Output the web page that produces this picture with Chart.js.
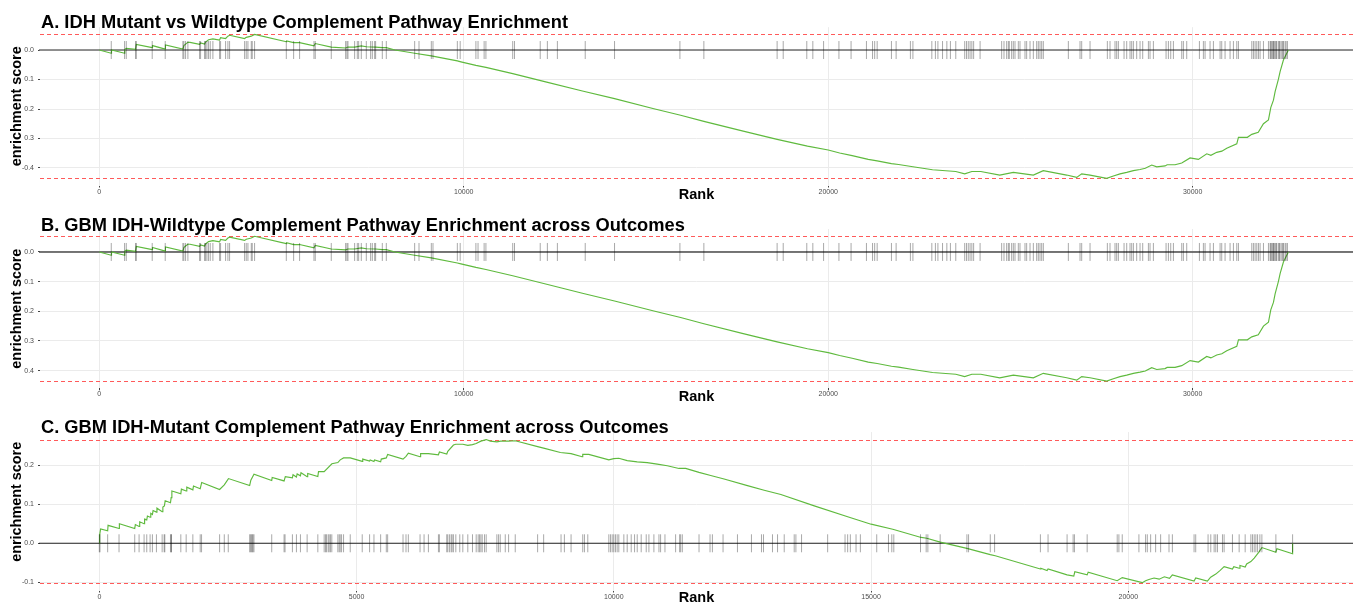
<!DOCTYPE html>
<html>
<head>
<meta charset="utf-8">
<script src="https://cdn.jsdelivr.net/npm/chart.js@4.4.0/dist/chart.umd.min.js"></script>
<style>
  html, body { margin: 0; padding: 0; background: #fff; }
  #wrap { position: relative; width: 1353px; height: 607px; overflow: hidden; background: #fff; }
  #wrap canvas { position: absolute; left: 0; }
</style>
</head>
<body>
<div id="wrap">
  <canvas id="panelA" width="1353" height="205" style="top:0px;width:1353px;height:205px"></canvas>
  <canvas id="panelB" width="1353" height="205" style="top:202px;width:1353px;height:205px"></canvas>
  <canvas id="panelC" width="1353" height="203" style="top:404px;width:1353px;height:203px"></canvas>
</div>
<script>
// ---------- panel titles ----------
const titleA = 'A. IDH Mutant vs Wildtype Complement Pathway Enrichment';
const titleB = 'B. GBM IDH-Wildtype Complement Pathway Enrichment across Outcomes';
const titleC = 'C. GBM IDH-Mutant Complement Pathway Enrichment across Outcomes';
const yAxisTitle = 'enrichment score';
const xAxisTitle = 'Rank';

// ---------- tick values and labels ----------
const xTicksAB = [0, 10000, 20000, 30000];
const xTicksC = [0, 5000, 10000, 15000, 20000];
const yTickValuesA = [0, -0.1, -0.2, -0.3, -0.4];
const yTickLabelsA = ['0.0', '0.1', '0.2', '0.3', '-0.4'];
const yTickValuesB = [0, -0.1, -0.2, -0.3, -0.4];
const yTickLabelsB = ['0.0', '0.1', '0.2', '0.3', '0.4'];
const yTickValuesC = [0.2, 0.1, 0, -0.1];
const yTickLabelsC = ['0.2', '0.1', '0.0', '-0.1'];

// ---------- IDH mutant vs wildtype: running enrichment score ----------
const esRankA = [0, 328, 335, 694, 700, 740, 996, 1015, 1452, 1460, 1809, 1815, 2294, 2321, 2367, 2431, 2489,
  2751, 2779, 2888, 2916, 2998, 3117, 3300, 3328, 3465, 3529, 3575, 3987, 4032, 4170, 4261, 5131, 5140,
  5332, 5496, 5890, 5926, 6365, 6759, 6823, 7006, 7189, 7326, 7582, 7765, 7875, 8112, 8653, 9110, 9824,
  9922, 10333, 10608, 11343, 12275, 13255, 14137, 15216, 15951, 16588, 17667, 18598, 19431, 20000, 20314,
  20657, 21098, 21343, 21735, 21931, 22324, 22863, 23500, 23745, 23941, 24186, 24706, 25079, 25628, 25902,
  26543, 26818, 26955, 27184, 27641, 27824, 28007, 28190, 28373, 28556, 28700, 28876, 29014, 29242, 29300,
  29517, 29700, 29929, 30157, 30386, 30500, 30660, 30800, 30935, 31210, 31256, 31500, 31622, 31800, 31942,
  32079, 32143, 32216, 32262, 32353, 32399, 32490, 32581, 32627];
const esScoreA = [0, -0.011, 0.000, -0.011, 0.002, 0.006, 0.002, 0.019, 0.008, 0.015, 0.003, 0.017, 0.003, 0.015,
  0.020, 0.026, 0.026, 0.019, 0.024, 0.020, 0.027, 0.035, 0.038, 0.034, 0.042, 0.039, 0.047, 0.050, 0.039,
  0.043, 0.047, 0.053, 0.028, 0.031, 0.025, 0.025, 0.014, 0.022, 0.010, 0.007, 0.010, 0.010, 0.014, 0.011,
  0.010, 0.008, 0.008, 0.000, -0.011, -0.020, -0.037, -0.040, -0.052, -0.059, -0.080, -0.109, -0.139,
  -0.165, -0.199, -0.221, -0.242, -0.275, -0.303, -0.326, -0.339, -0.349, -0.358, -0.371, -0.376, -0.385,
  -0.388, -0.396, -0.406, -0.412, -0.420, -0.412, -0.412, -0.424, -0.415, -0.424, -0.409, -0.424, -0.432,
  -0.420, -0.424, -0.435, -0.427, -0.420, -0.415, -0.409, -0.405, -0.401, -0.390, -0.396, -0.393, -0.389,
  -0.389, -0.383, -0.366, -0.371, -0.352, -0.357, -0.347, -0.343, -0.333, -0.318, -0.296, -0.296, -0.286,
  -0.279, -0.250, -0.237, -0.195, -0.170, -0.141, -0.099, -0.073, -0.034, -0.011, 0.000];
// ranks of the pathway genes
const hitsA = [328, 694, 740, 996, 1015, 1452, 1809, 2294, 2321, 2367, 2431, 2751, 2779, 2888, 2916, 2953, 2998,
  3044, 3117, 3300, 3328, 3465, 3529, 3575, 3987, 4032, 4078, 4170, 4197, 4261, 5131, 5332, 5496, 5890, 5926,
  6365, 6759, 6795, 6823, 7006, 7079, 7116, 7189, 7326, 7445, 7491, 7555, 7582, 7765, 7875, 8653, 8772, 9110,
  9156, 9824, 9902, 10333, 10392, 10559, 10608, 11343, 11392, 12098, 12294, 12569, 13333, 14137, 15931, 16588,
  18598, 18765, 19412, 19578, 19873, 20294, 20627, 21049, 21216, 21275, 21343, 21735, 21863, 22255, 22324,
  22843, 22941, 23010, 23137, 23255, 23353, 23500, 23745, 23794, 23843, 23892, 23941, 23990, 24167, 24759,
  24823, 24896, 24942, 24969, 25033, 25079, 25125, 25216, 25262, 25399, 25445, 25537, 25628, 25720, 25765,
  25811, 25857, 25902, 26589, 26909, 26955, 27184, 27659, 27732, 27869, 27915, 27961, 28117, 28190, 28281,
  28327, 28373, 28464, 28556, 28629, 28785, 28830, 28922, 29270, 29334, 29398, 29471, 29700, 29745, 29837,
  30185, 30294, 30340, 30477, 30569, 30752, 30797, 30889, 31026, 31118, 31210, 31256, 31622, 31667, 31713,
  31759, 31805, 31850, 31942, 32079, 32125, 32143, 32170, 32198, 32216, 32234, 32262, 32289, 32307, 32353,
  32381, 32399, 32445, 32472, 32490, 32536, 32563, 32600];

// ---------- GBM IDH-wildtype across outcomes ----------
const esRankB = esRankA.slice();
const esScoreB = esScoreA.slice();
const hitsB = hitsA.slice();

// ---------- GBM IDH-mutant across outcomes ----------
const esRankC = [0, 6, 25, 162, 170, 383, 390, 688, 700, 773, 785, 870, 880, 922, 935, 987, 1000, 1032, 1045,
  1110, 1120, 1221, 1235, 1265, 1280, 1383, 1396, 1410, 1584, 1595, 1688, 1700, 1818, 1830, 1961, 1990, 2338,
  2429, 2510, 2922, 2945, 3006, 3351, 3360, 3591, 3615, 3753, 3765, 3831, 3845, 3909, 3920, 4039, 4050, 4247,
  4260, 4370, 4520, 4636, 4682, 4747, 4877, 5110, 5120, 5253, 5265, 5338, 5350, 5468, 5480, 5578, 5604, 5903,
  5961, 6006, 6234, 6245, 6396, 6591, 6610, 6753, 6773, 6883, 6929, 7065, 7162, 7253, 7325, 7416, 7519, 7600,
  7727, 7800, 7955, 8084, 8519, 8636, 8961, 9169, 9383, 9396, 9513, 9903, 10000, 10097, 10260, 10455, 10649,
  10844, 11039, 11266, 11396, 11656, 11883, 12143, 12597, 12922, 13247, 13896, 14545, 15000, 15422, 15974,
  16083, 16343, 16863, 17317, 17414, 18291, 18300, 18421, 18440, 18810, 18940, 18960, 19200, 19220, 19784,
  19882, 20271, 20336, 20400, 20500, 20600, 20700, 20800, 20856, 21278, 21310, 21537, 21600, 21700, 21780,
  21862, 22024, 22050, 22154, 22170, 22271, 22300, 22382, 22447, 22530, 22596, 22868, 22888, 23193, 23193];
const esScoreC = [0, 0.021, 0.037, 0.032, 0.046, 0.038, 0.050, 0.038, 0.048, 0.043, 0.055, 0.050, 0.062, 0.060,
  0.070, 0.067, 0.077, 0.074, 0.084, 0.080, 0.090, 0.081, 0.093, 0.096, 0.109, 0.104, 0.117, 0.134, 0.127,
  0.139, 0.134, 0.144, 0.137, 0.147, 0.140, 0.156, 0.138, 0.150, 0.166, 0.148, 0.162, 0.177, 0.161, 0.169,
  0.160, 0.171, 0.168, 0.176, 0.170, 0.178, 0.173, 0.181, 0.171, 0.179, 0.171, 0.184, 0.184, 0.204, 0.207,
  0.214, 0.219, 0.219, 0.210, 0.216, 0.211, 0.214, 0.210, 0.214, 0.209, 0.216, 0.219, 0.228, 0.216, 0.223,
  0.231, 0.222, 0.230, 0.230, 0.227, 0.234, 0.229, 0.236, 0.252, 0.254, 0.254, 0.251, 0.253, 0.256, 0.262,
  0.266, 0.262, 0.260, 0.262, 0.262, 0.263, 0.248, 0.244, 0.233, 0.230, 0.222, 0.228, 0.228, 0.214, 0.217,
  0.218, 0.212, 0.209, 0.207, 0.203, 0.199, 0.192, 0.192, 0.182, 0.174, 0.165, 0.148, 0.136, 0.125, 0.096,
  0.068, 0.049, 0.036, 0.015, 0.013, 0.003, -0.013, -0.029, -0.032, -0.066, -0.064, -0.070, -0.066, -0.081,
  -0.084, -0.073, -0.081, -0.074, -0.096, -0.088, -0.101, -0.096, -0.093, -0.089, -0.092, -0.086, -0.090,
  -0.081, -0.097, -0.089, -0.097, -0.087, -0.079, -0.070, -0.060, -0.066, -0.060, -0.064, -0.057, -0.061,
  -0.053, -0.047, -0.038, -0.024, -0.011, -0.023, -0.014, -0.027, 0.000];
const hitsC = [0, 13, 162, 383, 688, 773, 870, 922, 987, 1032, 1110, 1221, 1260, 1273, 1383, 1396, 1403, 1584,
  1688, 1818, 1961, 1987, 2338, 2429, 2506, 2922, 2942, 2955, 2974, 2987, 3006, 3351, 3591, 3610, 3753, 3831,
  3909, 4039, 4247, 4370, 4396, 4416, 4448, 4468, 4494, 4519, 4636, 4662, 4682, 4708, 4747, 4877, 5110, 5253,
  5338, 5468, 5578, 5604, 5903, 5961, 6006, 6234, 6312, 6396, 6591, 6610, 6753, 6773, 6805, 6838, 6857, 6883,
  6929, 7006, 7065, 7162, 7253, 7325, 7364, 7390, 7416, 7442, 7487, 7519, 7727, 7760, 7792, 7890, 7955, 8084,
  8519, 8636, 8974, 9039, 9169, 9396, 9429, 9494, 9903, 9935, 9968, 10000, 10032, 10065, 10097, 10195, 10260,
  10338, 10403, 10455, 10532, 10630, 10682, 10779, 10877, 10909, 10994, 11201, 11279, 11299, 11331, 11656,
  11870, 11916, 12123, 12403, 12675, 12870, 12909, 13084, 13182, 13312, 13506, 13539, 13649, 14156, 14494,
  14545, 14597, 14708, 14792, 15110, 15338, 15403, 15442, 15961, 16071, 16104, 16343, 16863, 16895, 17317,
  17401, 18291, 18440, 18810, 18927, 18953, 19200, 19784, 19817, 19882, 20206, 20336, 20369, 20434, 20531,
  20628, 20791, 20856, 21278, 21310, 21550, 21603, 21668, 21700, 21733, 21830, 21862, 22024, 22154, 22271,
  22382, 22414, 22447, 22479, 22512, 22557, 22596, 22868, 23193];

// ---------- shared styling ----------
const FONT = '"Liberation Sans", Arial, Helvetica, sans-serif';
const GREEN = '#5fba3e';
const RED = '#ff5a5a';
const GRID = '#ebebeb';
const HIT = 'rgba(0, 0, 0, 0.34)';

// Decorations: extreme-score dashed lines, zero line, panel title, y title
const panelDeco = {
  id: 'panelDeco',
  beforeDatasetsDraw(chart, args, o) {
    const { ctx, chartArea: a, scales: { y } } = chart;
    ctx.save();
    ctx.strokeStyle = RED;
    ctx.lineWidth = 1;
    ctx.setLineDash([4, 3]);
    for (const v of [Math.max(...o.scores), Math.min(...o.scores)]) {
      const py = Math.round(y.getPixelForValue(v)) + 0.5;
      ctx.beginPath();
      ctx.moveTo(a.left, py);
      ctx.lineTo(a.right, py);
      ctx.stroke();
    }
    ctx.setLineDash([]);
    ctx.strokeStyle = o.zeroColor;
    ctx.lineWidth = o.zeroWidth;
    const pz = y.getPixelForValue(0);
    ctx.beginPath();
    ctx.moveTo(a.left - 1, pz);
    ctx.lineTo(a.right, pz);
    ctx.stroke();
    ctx.restore();
  },
  afterDraw(chart, args, o) {
    const { ctx, chartArea: a } = chart;
    ctx.save();
    ctx.fillStyle = '#000';
    ctx.font = 'bold 18.3px ' + FONT;
    ctx.textAlign = 'left';
    ctx.textBaseline = 'alphabetic';
    ctx.fillText(o.title, 41, o.titleBaseline);
    ctx.font = 'bold 14.4px ' + FONT;
    ctx.textAlign = 'center';
    ctx.textBaseline = 'middle';
    ctx.translate(17.3, (a.top + a.bottom) / 2 + o.yTitleShift);
    ctx.rotate(-Math.PI / 2);
    ctx.fillText(yAxisTitle, 0, 0);
    ctx.restore();
  }
};

function makePanel(id, p) {
  const lineData = p.ranks.map((r, i) => ({ x: r, y: p.scores[i] }));
  const hitData = p.hits.map(r => ({ x: r, y: 0 }));
  return new Chart(document.getElementById(id), {
    type: 'scatter',
    data: {
      datasets: [
        {
          type: 'scatter',
          data: hitData,
          pointStyle: 'line',
          rotation: 90,
          pointRadius: 9,
          pointBorderWidth: 1,
          borderColor: HIT,
          pointBorderColor: HIT,
          order: 0
        },
        {
          type: 'line',
          data: lineData,
          borderColor: GREEN,
          borderWidth: 1.15,
          pointRadius: 0,
          tension: 0,
          fill: false,
          order: 1
        }
      ]
    },
    options: {
      responsive: false,
      animation: false,
      devicePixelRatio: 1,
      events: [],
      layout: { autoPadding: false, padding: { top: p.top, left: 0, right: 0, bottom: 0 } },
      plugins: {
        legend: { display: false },
        tooltip: { enabled: false },
        title: { display: false },
        panelDeco: {
          title: p.title,
          titleBaseline: p.titleBaseline,
          scores: p.scores,
          zeroColor: p.zeroColor,
          zeroWidth: p.zeroWidth,
          yTitleShift: p.yTitleShift
        }
      },
      scales: {
        x: {
          type: 'linear',
          min: p.xMin,
          max: p.xMax,
          afterBuildTicks: s => { s.ticks = p.xTicks.map(v => ({ value: v })); },
          afterFit: s => { s.height = p.xAxisHeight; s.paddingLeft = 0; s.paddingRight = 0; },
          border: { display: false },
          grid: { color: GRID, lineWidth: 1, drawTicks: true, tickLength: 2, tickColor: '#444', tickWidth: 1 },
          ticks: {
            autoSkip: false, maxRotation: 0, padding: 0,
            color: '#4d4d4d', font: { family: FONT, size: 7 },
            callback: v => String(v)
          },
          title: {
            display: true, text: xAxisTitle, color: '#000',
            font: { family: FONT, size: 14.5, weight: 'bold' },
            padding: { top: 0, bottom: p.rankPad }
          }
        },
        y: {
          type: 'linear',
          min: p.yMin,
          max: p.yMax,
          afterBuildTicks: s => { s.ticks = p.yTicks.map(v => ({ value: v })); },
          afterFit: s => { s.width = 40; s.paddingTop = 0; s.paddingBottom = 0; },
          border: { display: false },
          grid: { color: GRID, lineWidth: 1, drawTicks: true, tickLength: 2, tickColor: '#444', tickWidth: 1 },
          ticks: {
            padding: 4, color: '#4d4d4d', font: { family: FONT, size: 7 },
            callback: (v, i) => p.yLabels[i]
          },
          title: { display: false }
        }
      }
    },
    plugins: [panelDeco]
  });
}

makePanel('panelA', {
  title: titleA, titleBaseline: 28.3, top: 27.2, xAxisHeight: 19.5, rankPad: 0.9,
  ranks: esRankA, scores: esScoreA, hits: hitsA,
  xMin: -1627, xMax: 34399, xTicks: xTicksAB,
  yMin: -0.4594, yMax: 0.0774, yTicks: yTickValuesA, yLabels: yTickLabelsA,
  zeroColor: '#6e6e6e', zeroWidth: 1.6, yTitleShift: 0
});
makePanel('panelB', {
  title: titleB, titleBaseline: 28.6, top: 27.0, xAxisHeight: 18.7, rankPad: 0.9,
  ranks: esRankB, scores: esScoreB, hits: hitsB,
  xMin: -1627, xMax: 34399, xTicks: xTicksAB,
  yMin: -0.4594, yMax: 0.0774, yTicks: yTickValuesB, yLabels: yTickLabelsB,
  zeroColor: '#4a4a4a', zeroWidth: 1.4, yTitleShift: 0
});
makePanel('panelC', {
  title: titleC, titleBaseline: 28.7, top: 28.1, xAxisHeight: 16.5, rankPad: 0,
  ranks: esRankC, scores: esScoreC, hits: hitsC,
  xMin: -1153, xMax: 24367, xTicks: xTicksC,
  yMin: -0.1211, yMax: 0.2852, yTicks: yTickValuesC, yLabels: yTickLabelsC,
  zeroColor: '#222', zeroWidth: 1.1, yTitleShift: -9.5
});
</script>
</body>
</html>
